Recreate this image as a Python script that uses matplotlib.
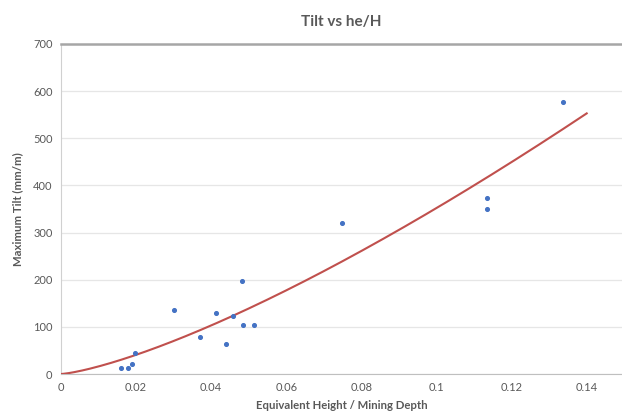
import matplotlib.pyplot as plt
import numpy as np

# data
he_H = [0.0160, 0.0179, 0.0190, 0.0196, 0.0301, 0.0370, 0.0413, 0.0439,
        0.0458, 0.0482, 0.0486, 0.0515, 0.0749, 0.1134, 0.1134, 0.1336]
max_tilt = [12, 13, 21, 45, 136, 79, 130, 63,
            122, 197, 103, 103, 321, 374, 350, 577]

# power trendline y = a * x^b, least squares on y (grid over the exponent)
x = np.array(he_H)
y = np.array(max_tilt, dtype=float)
best = None
for b in np.arange(1.0, 2.5, 0.001):
    xb = x ** b
    a = (xb @ y) / (xb @ xb)
    err = ((a * xb - y) ** 2).sum()
    if best is None or err < best[0]:
        best = (err, a, b)
_, a, b = best

plt.rcParams['font.family'] = ['Lato', 'DejaVu Sans']
grey = '#595959'

fig = plt.figure(figsize=(6.22, 4.17), dpi=100)
ax = fig.add_axes([0.098, 0.1031, 0.902, 0.7914])

xs = np.linspace(0, 0.14, 200)
ax.plot(xs, a * xs ** b, color='#C0504D', linewidth=1.5, zorder=3)
ax.scatter(he_H, max_tilt, s=7, color='#4472C4', zorder=4)

ax.set_xlim(0, 0.1494)
ax.set_ylim(0, 700)
ax.set_xticks([0, 0.02, 0.04, 0.06, 0.08, 0.1, 0.12, 0.14])
ax.set_xticklabels(['0', '0.02', '0.04', '0.06', '0.08', '0.1', '0.12', '0.14'])
ax.set_yticks(range(0, 701, 100))

ax.grid(axis='y', color='#e6e6e6', linewidth=0.9)
ax.set_axisbelow(True)
ax.tick_params(length=0, labelsize=8, colors=grey, pad=6)

ax.spines['right'].set_visible(False)
ax.spines['top'].set_color('#a6a6a6')
ax.spines['top'].set_linewidth(1.8)
ax.spines['left'].set_color('#d0d0d0')
ax.spines['bottom'].set_color('#bfbfbf')

ax.set_title('Tilt vs he/H', fontsize=11, fontweight='bold', color=grey, pad=13)
ax.set_xlabel('Equivalent Height / Mining Depth', fontsize=8.2, fontweight='bold', color=grey, labelpad=5)
ax.set_ylabel('Maximum Tilt (mm/m)', fontsize=8.2, fontweight='bold', color=grey, labelpad=7)

fig.savefig('out.png', dpi=100)
